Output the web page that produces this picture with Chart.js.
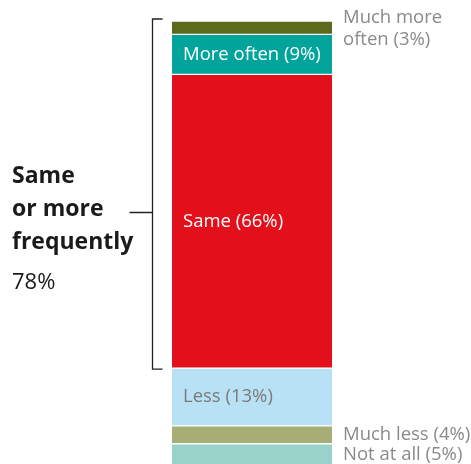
<!DOCTYPE html>
<html>
<head>
<meta charset="utf-8">
<script src="https://cdn.jsdelivr.net/npm/chart.js@4"></script>
<style>
  html, body { margin: 0; padding: 0; background: #fff; }
  #wrap { width: 471px; height: 464px; position: relative; overflow: hidden; }
</style>
</head>
<body>
<div id="wrap"><canvas id="myChart" width="471" height="466"></canvas></div>
<script>
'use strict'
// bottom to top, like the stack
let answers = ['Not at all', 'Much less', 'Less', 'Same', 'More often', 'Much more often'];
let shares = [5, 4, 13, 66, 9, 3];
let colors = ['#98d2c9', '#a6ad75', '#b9e1f5', '#e30f1b', '#00a49b', '#5b6b1b'];
// where the label goes: inside the bar or at the right
let labelSide = ['out', 'out', 'in', 'in', 'in', 'out'];
let labelColor = ['#8a8a8a', '#8a8a8a', '#7a7a7a', '#ffffff', '#ffffff', '#8a8a8a'];
let groupText = ['Same', 'or more', 'frequently'];
let groupShare = '78%';

let fontName = '"Open Sans", sans-serif';

let datasets = [];
for (let i = 0; i < answers.length; i++) {
    datasets.push({
        label: answers[i],
        data: [shares[i]],
        backgroundColor: colors[i],
        borderColor: '#ffffff',
        borderWidth: { top: 1, bottom: 1, left: 0, right: 0 },
        borderSkipped: false,
        barPercentage: 1,
        categoryPercentage: 1
    });
}

let labelPlugin = {
    id: 'labelPlugin',
    afterDraw(chart) {
        let ctx = chart.ctx;
        ctx.save();
        ctx.textBaseline = 'middle';
        for (let i = 0; i < answers.length; i++) {
            let bar = chart.getDatasetMeta(i).data[0];
            let top = Math.min(bar.y, bar.base);
            let bottom = Math.max(bar.y, bar.base);
            let mid = (top + bottom) / 2;
            let text = `${answers[i]} (${shares[i]}%)`;
            ctx.fillStyle = labelColor[i];
            ctx.font = '18.5px ' + fontName;
            if (labelSide[i] === 'in') {
                ctx.fillText(text, chart.chartArea.left + 11, mid);
            } else {
                let x = chart.chartArea.right + 11;
                if (i === answers.length - 1) {
                    ctx.fillText('Much more', x, 18);
                    ctx.fillText(`often (${shares[i]}%)`, x, 40);
                } else {
                    ctx.fillText(text, x, mid);
                }
            }
        }

        // bracket round the top three
        let topBar = chart.getDatasetMeta(answers.length - 1).data[0];
        let sameBar = chart.getDatasetMeta(3).data[0];
        let y1 = topBar.y - 2;
        let y2 = sameBar.base + 1;
        let bx = 152.5;
        ctx.strokeStyle = '#222';
        ctx.lineWidth = 1.3;
        ctx.beginPath();
        ctx.moveTo(bx + 10, y1);
        ctx.lineTo(bx, y1);
        ctx.lineTo(bx, y2);
        ctx.lineTo(bx + 10, y2);
        ctx.moveTo(bx, 212.5);
        ctx.lineTo(bx - 23, 212.5);
        ctx.stroke();

        ctx.fillStyle = '#1a1a1a';
        ctx.font = 'bold 23px ' + fontName;
        for (let j = 0; j < groupText.length; j++) {
            ctx.fillText(groupText[j], 12, 176 + j * 33);
        }
        ctx.font = '22px ' + fontName;
        ctx.fillText(groupShare, 12, 283);
        ctx.restore();
    }
};

let ctx = document.getElementById('myChart').getContext('2d');
let myChart = new Chart(ctx, {
    type: 'bar',
    data: {
        labels: ['all'],
        datasets: datasets
    },
    options: {
        responsive: false,
        animation: false,
        layout: {
            padding: { left: 172, right: 139, top: 21, bottom: 0 }
        },
        plugins: {
            legend: { display: false },
            tooltip: { enabled: false }
        },
        scales: {
            x: { stacked: true, display: false },
            y: { stacked: true, display: false, min: 0, max: 100 }
        }
    },
    plugins: [labelPlugin]
});
</script>
</body>
</html>
